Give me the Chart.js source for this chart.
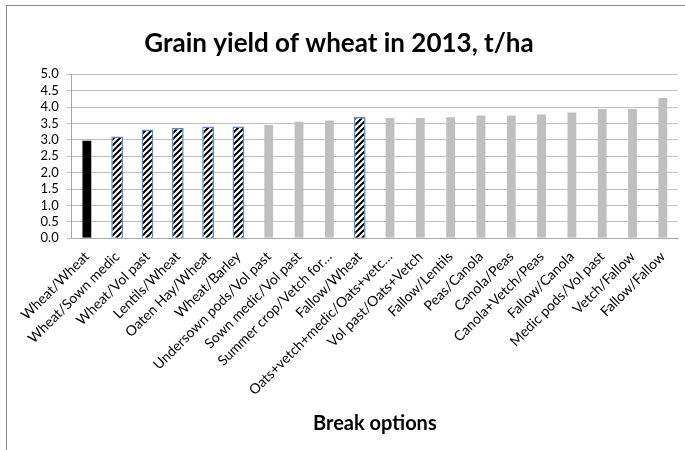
<!DOCTYPE html>
<html>
<head>
<meta charset="utf-8">
<script src="https://cdn.jsdelivr.net/npm/chart.js@4"></script>
<style>
    body { margin: 0; width: 685px; height: 450px; overflow: hidden; background: #fff; }
    #frame { position: absolute; left: 6px; top: 5px; width: 720px; height: 480px; border: 1px solid #8c8c8c; }
    #wrap { position: absolute; left: 0; top: 0; width: 685px; height: 450px; }
</style>
</head>
<body>
<div id="frame"></div>
<div id="wrap"><canvas id="yieldChart" width="685" height="450"></canvas></div>
<script>
const breakOptions = [
    "Wheat/Wheat", "Wheat/Sown medic", "Wheat/Vol past", "Lentils/Wheat", "Oaten Hay/Wheat",
    "Wheat/Barley", "Undersown pods/Vol past", "Sown medic/Vol past", "Summer crop/Vetch for…",
    "Fallow/Wheat", "Oats+vetch+medic/Oats+vetc…", "Vol past/Oats+Vetch", "Fallow/Lentils",
    "Peas/Canola", "Canola/Peas", "Canola+Vetch/Peas", "Fallow/Canola", "Medic pods/Vol past",
    "Vetch/Fallow", "Fallow/Fallow",
];
const yieldValues = [
    3.02, 3.10, 3.32, 3.36, 3.41, 3.41, 3.50, 3.60, 3.64, 3.70,
    3.71, 3.71, 3.74, 3.79, 3.79, 3.82, 3.88, 3.99, 3.99, 4.32,
];
const controlIndex = 0;
const hatchedIndexes = [1, 2, 3, 4, 5, 9];

const chartCanvas = document.getElementById("yieldChart");
const fontFamily = "Lato, 'Open Sans', sans-serif";

function makeHatch(ctx) {
    const size = 6;
    const c = document.createElement("canvas");
    c.width = size;
    c.height = size;
    const g = c.getContext("2d");
    g.fillStyle = "#ffffff";
    g.fillRect(0, 0, size, size);
    g.strokeStyle = "#000000";
    g.lineWidth = 2;
    g.beginPath();
    g.moveTo(0, size); g.lineTo(size, 0);
    g.moveTo(-size / 2, size / 2); g.lineTo(size / 2, -size / 2);
    g.moveTo(size / 2, size * 1.5); g.lineTo(size * 1.5, size / 2);
    g.stroke();
    return ctx.createPattern(c, "repeat");
}

const hatch = makeHatch(chartCanvas.getContext("2d"));

const fills = breakOptions.map((_, i) => {
    if (i === controlIndex) return "#000000";
    if (hatchedIndexes.includes(i)) return hatch;
    return "#bfbfbf";
});
const borders = breakOptions.map((_, i) => (hatchedIndexes.includes(i) ? "#5b8bc9" : "rgba(0,0,0,0)"));

new Chart(chartCanvas, {
    type: "bar",
    data: {
        labels: breakOptions,
        datasets: [
            {
                label: "Grain yield",
                data: yieldValues,
                backgroundColor: fills,
                borderColor: borders,
                borderWidth: 1.5,
                barPercentage: 0.39,
                categoryPercentage: 1,
            },
        ],
    },
    options: {
        responsive: false,
        animation: false,
        layout: { padding: { left: 0, right: 7, top: 0, bottom: 0 } },
        plugins: {
            legend: { display: false },
            tooltip: { enabled: false },
            title: {
                display: true,
                text: "Grain yield of wheat in 2013, t/ha",
                color: "#000000",
                font: { family: fontFamily, size: 26, weight: "bold" },
                padding: { top: 28.4, bottom: 14.7 },
            },
        },
        scales: {
            x: {
                grid: { display: false, drawTicks: false },
                border: { display: true, color: "#a6a6a6" },
                ticks: {
                    color: "#000000",
                    font: { family: fontFamily, size: 14 },
                    minRotation: 45,
                    maxRotation: 45,
                    autoSkip: false,
                    padding: 10,
                },
                title: {
                    display: true,
                    text: "Break options",
                    color: "#000000",
                    font: { family: fontFamily, size: 20, weight: "bold" },
                    padding: { top: 0, bottom: 14 },
                },
                afterFit: (scale) => {
                    scale.height = 450 - 238.3;
                },
            },
            y: {
                min: 0,
                max: 5,
                grid: { color: "#c0c0c0", drawTicks: true, tickLength: 5 },
                border: { display: true, color: "#a6a6a6" },
                ticks: {
                    stepSize: 0.5,
                    autoSkip: false,
                    color: "#000000",
                    padding: 8,
                    font: { family: fontFamily, size: 13 },
                    callback: (v) => v.toFixed(1),
                },
                afterFit: (scale) => {
                    scale.width = 71.7;
                },
            },
        },
    },
});
</script>
</body>
</html>
